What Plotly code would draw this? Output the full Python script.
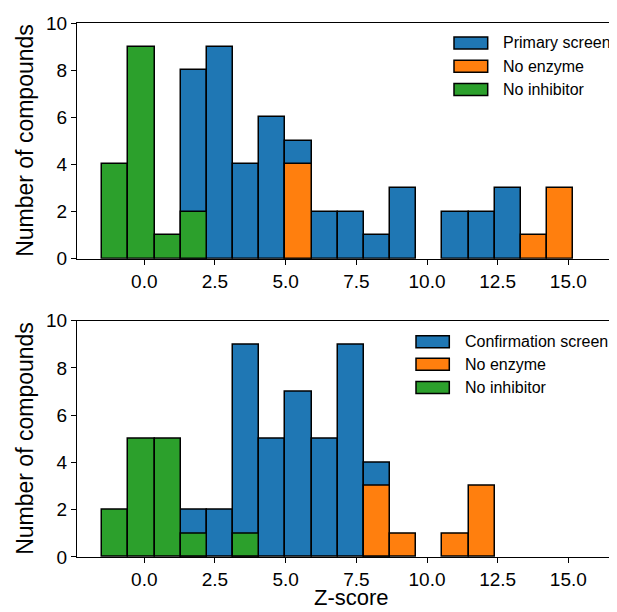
import numpy as np
import plotly.graph_objects as go
from plotly.subplots import make_subplots

# ---- data ----
bin_start = -1.486
bin_width = 0.9253
n_bins = 19

top_primary = [0, 0, 0, 8, 9, 4, 6, 5, 2, 2, 1, 3, 0, 2, 2, 3, 0, 0, 0]
top_no_enzyme = [0, 0, 0, 0, 0, 0, 0, 4, 0, 0, 0, 0, 0, 0, 0, 0, 1, 3, 0]
top_no_inhibitor = [4, 9, 1, 2, 0, 0, 0, 0, 0, 0, 0, 0, 0, 0, 0, 0, 0, 0, 0]

bot_confirmation = [0, 0, 0, 2, 2, 9, 5, 7, 5, 9, 4, 0, 0, 0, 0, 0, 0, 0, 0]
bot_no_enzyme = [0, 0, 0, 0, 0, 0, 0, 0, 0, 0, 3, 1, 0, 1, 3, 0, 0, 0, 0]
bot_no_inhibitor = [2, 5, 5, 1, 0, 1, 0, 0, 0, 0, 0, 0, 0, 0, 0, 0, 0, 0, 0]

x_ticks = [0.0, 2.5, 5.0, 7.5, 10.0, 12.5, 15.0]
y_ticks = [0, 2, 4, 6, 8, 10]

top_labels = ["Primary screen", "No enzyme", "No inhibitor"]
bot_labels = ["Confirmation screen", "No enzyme", "No inhibitor"]

colors = ["#1f77b4", "#ff7f0e", "#2ca02c"]

centers = bin_start + bin_width * (np.arange(n_bins) + 0.5)

# page body margin offset (browser default)
OFF = 8
W, H = 617 - OFF, 612 - OFF


def fx(p):  # reference pixel x -> figure pixel x
    return p - OFF


def fy(p):
    return p - OFF


ML = fx(77)
MR = 0
MT = fy(22.7)
MB = H - fy(557.3)
PW = W - ML - MR
PH = H - MT - MB


def px2x(px):
    return (fx(px) - ML) / PW


def py2y(py):
    return (H - MB - fy(py)) / PH


fig = make_subplots(rows=2, cols=1, vertical_spacing=0.05)

font_family = "Liberation Sans, Arial, Helvetica, sans-serif"

for row, series in ((1, (top_primary, top_no_enzyme, top_no_inhibitor)),
                    (2, (bot_confirmation, bot_no_enzyme, bot_no_inhibitor))):
    labels = top_labels if row == 1 else bot_labels
    for vals, col, lab in zip(series, colors, labels):
        yv = [v if v > 0 else None for v in vals]
        fig.add_trace(go.Bar(
            x=centers, y=yv, width=bin_width, name=lab,
            marker=dict(color=col, line=dict(color="black", width=1.5)),
            showlegend=False,
        ), row=row, col=1)

# x-range so that the left spine sits at the reference spine and 1 unit = 28.27 px
px_per_unit = 28.27
x0_pix = 144.3
x_min = (77 - x0_pix) / px_per_unit
x_max = x_min + PW / px_per_unit

top_dom = [py2y(258.7), 1.0]
bot_dom = [0.0, py2y(320.7)]

axis_common = dict(
    showline=True, linecolor="black", linewidth=1,
    ticks="outside", ticklen=5, tickwidth=1, tickcolor="black",
    showgrid=False, zeroline=False,
    tickfont=dict(family=font_family, size=19, color="black"),
)

fig.update_xaxes(range=[x_min, x_max], tickvals=x_ticks, tickformat=".1f",
                 mirror=True, **axis_common)
fig.update_yaxes(range=[0, 10], tickvals=y_ticks, **axis_common)
fig.update_layout(yaxis=dict(domain=top_dom), yaxis2=dict(domain=bot_dom))

fig.update_layout(
    width=W, height=H,
    margin=dict(l=ML, r=MR, t=MT, b=MB),
    plot_bgcolor="white", paper_bgcolor="white",
    barmode="overlay", bargap=0,
    showlegend=False,
    font=dict(family=font_family, color="black"),
)

# axis titles
anns = []
for yc in ((22.7 + 258.7) / 2, (320.7 + 557.3) / 2):
    anns.append(dict(x=px2x(25), y=py2y(yc), xref="paper", yref="paper",
                     text="Number of compounds", textangle=-90, showarrow=False,
                     xanchor="center", yanchor="middle",
                     font=dict(family=font_family, size=23, color="black")))
anns.append(dict(x=px2x(351), y=py2y(598), xref="paper", yref="paper",
                 text="Z-score", showarrow=False, xanchor="center", yanchor="middle",
                 font=dict(family=font_family, size=22, color="black")))

# custom legends (matplotlib style patches)
shapes = []
legend_specs = [
    (top_labels, 454, 487.7, 501, [42.7, 66.0, 89.3]),
    (bot_labels, 416, 449.3, 462.7, [341.7, 364.3, 387.7]),
]
for labels, px0, px1, tx, rows in legend_specs:
    for lab, col, yc in zip(labels, colors, rows):
        shapes.append(dict(type="rect", xref="paper", yref="paper",
                           x0=px2x(px0), x1=px2x(px1),
                           y0=py2y(yc + 6), y1=py2y(yc - 6),
                           fillcolor=col, line=dict(color="black", width=1.5)))
        anns.append(dict(x=px2x(tx), y=py2y(yc), xref="paper", yref="paper",
                         text=lab, showarrow=False, xanchor="left", yanchor="middle",
                         font=dict(family=font_family, size=16, color="black")))

fig.update_layout(annotations=anns, shapes=shapes)

fig.write_html("out.html")
